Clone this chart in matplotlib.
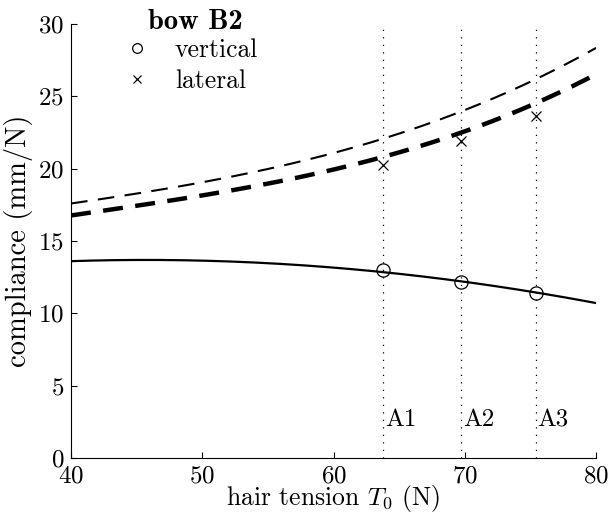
import matplotlib
matplotlib.use("Agg")
import numpy as np
import matplotlib.pyplot as plt
from matplotlib.lines import Line2D

plt.rcParams['font.family'] = ['cmr10', 'DejaVu Serif']
plt.rcParams['mathtext.fontset'] = 'cm'
plt.rcParams['axes.formatter.use_mathtext'] = True
plt.rcParams['font.size'] = 18

# measured points
T_meas = [63.8, 69.7, 75.4]
vert_meas = [12.98, 12.15, 11.40]
lat_meas = [20.23, 21.89, 23.62]
pos_labels = ["A1", "A2", "A3"]

# model curves
T_curve = [40, 45, 50, 55, 60, 63.8, 70, 75.4, 80]
vert_curve = [13.63, 13.67, 13.60, 13.45, 13.20, 12.94, 12.10, 11.40, 10.75]
lat_upper = [17.6, 18.3, 19.0, 19.95, 21.1, 22.2, 24.0, 26.1, 28.4]
lat_lower = [16.8, 17.4, 18.1, 18.95, 20.0, 20.9, 22.55, 24.4, 26.6]

fig = plt.figure(figsize=(6.09, 5.15), dpi=100)
ax = fig.add_axes([0.1166, 0.1107, 0.8621, 0.8427])

# smooth the curves a little through the read-off points
Tf = np.linspace(40, 80, 200)
def smooth(y):
    c = np.polyfit(T_curve, y, 3)
    return np.polyval(c, Tf)

ax.plot(Tf, smooth(vert_curve), color='k', lw=1.6)
ax.plot(Tf, smooth(lat_upper), color='k', lw=1.5, dashes=(8, 5))
ax.plot(Tf, smooth(lat_lower), color='k', lw=3.2, dashes=(4.5, 2.8))

for t, lab in zip(T_meas, pos_labels):
    ax.axvline(t, color='k', lw=0.9, ls=(0, (1, 5)))
    ax.text(t + 0.15, 2.6, lab, ha='left', va='center', fontsize=18)

ax.plot(T_meas, vert_meas, 'o', mfc='none', mec='k', ms=9.5, mew=0.9, ls='none')
ax.plot(T_meas, lat_meas, 'x', color='k', ms=7, mew=0.9, ls='none')

ax.set_xlim(40, 80)
ax.set_ylim(0, 30)
ax.set_xticks([40, 50, 60, 70, 80])
ax.set_yticks([0, 5, 10, 15, 20, 25, 30])
ax.spines['top'].set_visible(False)
ax.spines['right'].set_visible(False)
ax.tick_params(direction='in', length=4, width=0.8, pad=5)
ax.set_xlabel("hair tension $T_0$ (N)", fontsize=18.5)
ax.xaxis.set_label_coords(0.5, -0.057)
ax.set_ylabel("compliance (mm/N)", labelpad=4, fontsize=20.5)

handles = [Line2D([], [], marker='o', mfc='none', mec='k', ms=7, mew=0.9, ls='none'),
           Line2D([], [], marker='x', color='k', ms=6, mew=0.9, ls='none')]
ax.legend(handles, ["vertical", "lateral"],
          loc='upper left', bbox_to_anchor=(0.101, 0.966), frameon=False,
          fontsize=18.5, handlelength=1.0, handletextpad=0.98,
          labelspacing=0.25, borderpad=0, borderaxespad=0)
ax.text(0.1467, 0.9885, "bow B2", transform=ax.transAxes, ha='left',
        va='baseline', family='cmb10', fontsize=20.5)

fig.savefig("out.png", dpi=100)
